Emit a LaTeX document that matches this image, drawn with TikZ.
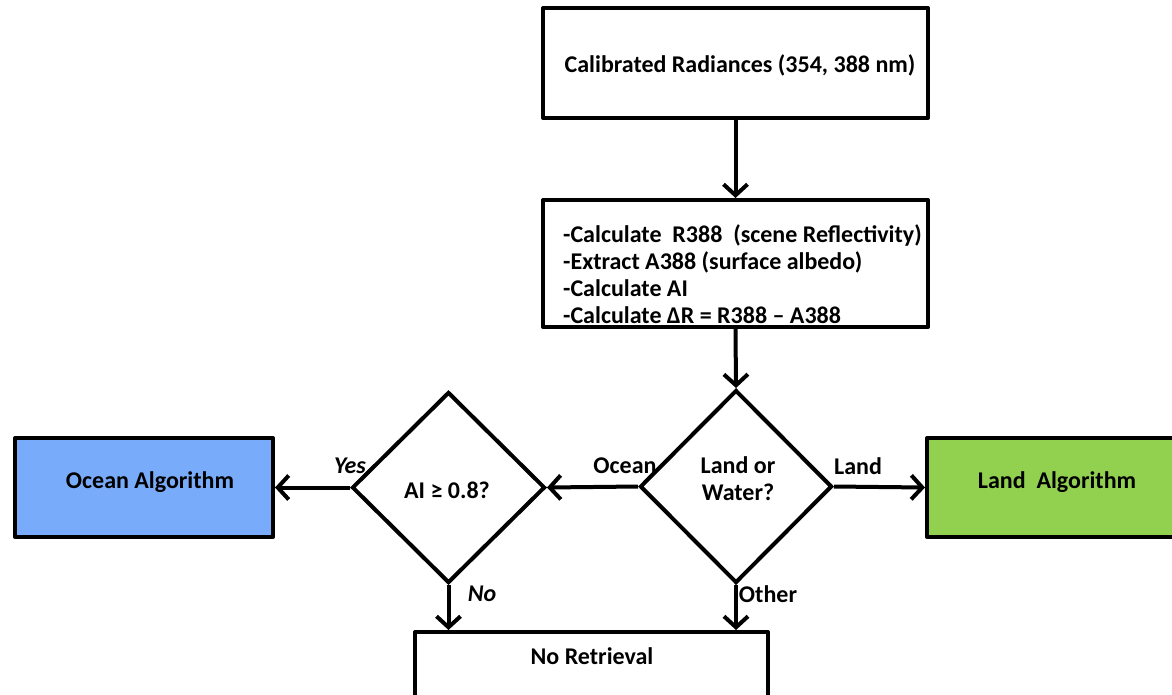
\documentclass[tikz,border=0pt]{standalone}
\usepackage{fontspec}
\setmainfont{Carlito}
\usetikzlibrary{shapes.geometric,arrows.meta}
\definecolor{oceanblue}{RGB}{120,171,249}
\definecolor{landgreen}{RGB}{146,208,80}
\begin{document}
\begin{tikzpicture}[x=1pt,y=-1pt,
  txt/.style={font=\fontsize{24}{27}\selectfont\bfseries},
  box/.style={draw,line width=4pt,line join=round,inner sep=0pt,txt},
  dia/.style={draw,diamond,line width=4pt,line join=miter,inner sep=0pt,aspect=1,align=center,txt},
  lab/.style={inner sep=0pt,txt},
  ilab/.style={inner sep=0pt,font=\fontsize{24}{27}\selectfont\bfseries\itshape},
  arr/.style={line width=4pt,-{Straight Barb[length=11pt,width=24pt,line width=4pt]}}]
\useasboundingbox (0,0) rectangle (1172,694);
% boxes
\node[box,minimum width=385pt,minimum height=110pt] (top) at (735.5,63) {};
\node[lab] (toptxt) at (740,65) {Calibrated Radiances (354, 388 nm)};
\node[box,minimum width=385pt,minimum height=127pt] (calc) at (735.5,263.5) {};
\node[lab,anchor=west,align=left] (calctxt) at (563,274) {-Calculate\ \ R388\ \ (scene Reflectivity)\\-Extract A388 (surface albedo)\\-Calculate AI\\-Calculate ΔR = R388 – A388};
\node[dia,minimum width=192pt,minimum height=193pt] (lw) at (736,486.5) {};
\node[lab,align=center] (lwtxt) at (738,479) {Land or\\Water?};
\node[dia,minimum width=193pt,minimum height=191pt] (ai) at (448.5,487.5) {};
\node[lab] (aitxt) at (447,490) {AI ≥ 0.8?};
\node[box,fill=oceanblue,minimum width=258pt,minimum height=99pt] (ocean) at (144,487.5) {};
\node[lab] (oceantxt) at (150,482) {Ocean Algorithm};
\node[box,fill=landgreen,minimum width=260pt,minimum height=99pt] (land) at (1057,487.5) {};
\node[lab] (landtxt) at (1057,482) {Land\ \ Algorithm};
\node[box,minimum width=353pt,minimum height=90pt] (nr) at (591.5,677) {};
\node[lab] (nrtxt) at (592,656) {No Retrieval};
% connectors
\draw[arr] (top.south) -- (calc.north);
\draw[arr] (calc.south) -- (lw.north);
\draw[arr] (lw.west) -- (ai.east);
\draw[arr] (ai.west) -- (ocean.east);
\draw[arr] (lw.east) -- (land.west);
\draw[arr] (ai.south) -- (ai.south |- nr.north);
\draw[arr] (lw.south) -- (lw.south |- nr.north);
% labels
\node[ilab] (yes) at (350,466) {Yes};
\node[lab] (oceanlab) at (625,466) {Ocean};
\node[lab] (landlab) at (858,466) {Land};
\node[ilab] (no) at (482,594) {No};
\node[lab] (other) at (768,594) {Other};
\end{tikzpicture}
\end{document}
